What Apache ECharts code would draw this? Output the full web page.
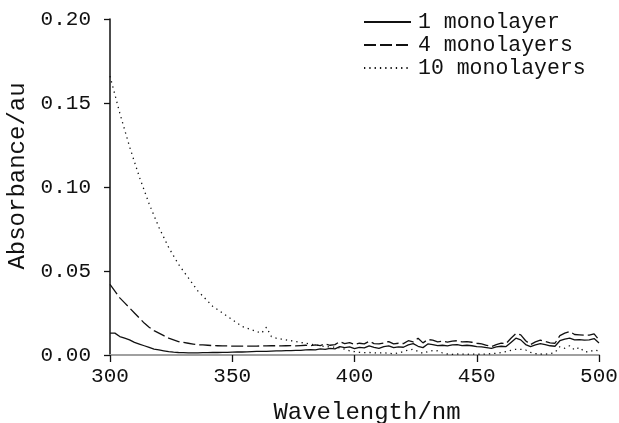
<!DOCTYPE html>
<html>
<head>
<meta charset="utf-8">
<script src="https://cdn.jsdelivr.net/npm/echarts@6/dist/echarts.min.js"></script>
<style>html,body{margin:0;padding:0;background:#fff}#c{width:619px;height:423px}</style>
</head>
<body>
<div id="c"></div>
<script>
const wavelengths = [];
for (let w = 300; w <= 500; w += 2) wavelengths.push(w);

const seriesNames = ['1 monolayer', '4 monolayers', '10 monolayers'];

const mono1 = [
0.0130,0.0130,0.0110,0.0100,0.0090,0.0075,0.0065,0.0055,0.0045,0.0035,
0.0030,0.0025,0.0020,0.0017,0.0015,0.0014,0.0013,0.0013,0.0013,0.0014,
0.0014,0.0015,0.0015,0.0016,0.0016,0.0017,0.0018,0.0018,0.0019,0.0020,
0.0021,0.0022,0.0022,0.0023,0.0024,0.0025,0.0026,0.0026,0.0028,0.0028,
0.0030,0.0032,0.0030,0.0036,0.0034,0.0040,0.0036,0.0050,0.0044,0.0048,
0.0038,0.0046,0.0042,0.0054,0.0046,0.0040,0.0050,0.0054,0.0044,0.0048,
0.0046,0.0060,0.0068,0.0052,0.0044,0.0066,0.0062,0.0056,0.0058,0.0054,
0.0060,0.0062,0.0056,0.0058,0.0055,0.0050,0.0048,0.0044,0.0040,0.0048,
0.0052,0.0050,0.0075,0.0100,0.0090,0.0062,0.0050,0.0060,0.0068,0.0062,
0.0055,0.0052,0.0085,0.0095,0.0100,0.0090,0.0092,0.0088,0.0090,0.0098,
0.0072];

const mono4 = [
0.0420,0.0380,0.0340,0.0310,0.0280,0.0250,0.0220,0.0190,0.0165,0.0145,
0.0130,0.0115,0.0100,0.0090,0.0080,0.0075,0.0070,0.0065,0.0060,0.0060,
0.0058,0.0056,0.0055,0.0054,0.0054,0.0053,0.0053,0.0053,0.0053,0.0053,
0.0053,0.0054,0.0054,0.0055,0.0055,0.0054,0.0055,0.0056,0.0054,0.0056,
0.0058,0.0055,0.0060,0.0056,0.0066,0.0058,0.0062,0.0079,0.0068,0.0074,
0.0062,0.0070,0.0066,0.0082,0.0068,0.0066,0.0072,0.0080,0.0066,0.0070,
0.0068,0.0085,0.0078,0.0100,0.0072,0.0092,0.0088,0.0078,0.0082,0.0076,
0.0082,0.0085,0.0078,0.0080,0.0076,0.0070,0.0066,0.0058,0.0050,0.0062,
0.0070,0.0068,0.0100,0.0128,0.0120,0.0085,0.0062,0.0078,0.0088,0.0080,
0.0072,0.0070,0.0115,0.0130,0.0140,0.0122,0.0120,0.0118,0.0118,0.0126,
0.0090];

const mono10 = [
0.1660,0.1550,0.1440,0.1340,0.1240,0.1150,0.1060,0.0980,0.0900,0.0830,
0.0760,0.0700,0.0640,0.0590,0.0540,0.0500,0.0460,0.0420,0.0380,0.0350,
0.0320,0.0290,0.0270,0.0250,0.0230,0.0210,0.0190,0.0170,0.0160,0.0150,
0.0140,0.0130,0.0165,0.0110,0.0100,0.0095,0.0090,0.0085,0.0080,0.0075,
0.0070,0.0065,0.0060,0.0055,0.0050,0.0048,0.0046,0.0042,0.0035,0.0025,
0.0020,0.0016,0.0014,0.0015,0.0013,0.0012,0.0014,0.0010,0.0008,0.0012,
0.0020,0.0030,0.0034,0.0022,0.0010,0.0020,0.0026,0.0025,0.0012,0.0006,
0.0004,0.0006,0.0005,0.0004,0.0006,0.0005,0.0004,0.0006,0.0008,0.0010,
0.0015,0.0020,0.0028,0.0034,0.0034,0.0030,0.0015,0.0008,0.0006,0.0005,
0.0008,0.0015,0.0050,0.0040,0.0055,0.0030,0.0045,0.0020,0.0018,0.0030,
0.0025];

const xTicks = [300, 350, 400, 450, 500];
const yTicks = [0, 0.05, 0.10, 0.15, 0.20];

const pair = arr => wavelengths.map((w, i) => [w, arr[i]]);
const FONT = '"Liberation Mono", "DejaVu Sans Mono", monospace';

const chart = echarts.init(document.getElementById('c'), null, {renderer: 'canvas'});
chart.setOption({
  backgroundColor: '#fff',
  animation: false,
  grid: {left: 110, right: 20, top: 19, bottom: 68, containLabel: false, outerBoundsMode: 'none'},
  legend: {
    orient: 'vertical', left: 358, top: 6,
    itemWidth: 47, itemHeight: 14, itemGap: 1,
    itemStyle: {opacity: 0},
    textStyle: {fontFamily: FONT, fontSize: 21.5, color: '#111', lineHeight: 22, padding: [0,0,0,2]},
    data: seriesNames
  },
  xAxis: {
    type: 'value', min: xTicks[0], max: xTicks[xTicks.length-1], interval: 50,
    name: 'Wavelength/nm', nameLocation: 'middle', nameGap: 46,
    nameTextStyle: {fontFamily: FONT, fontSize: 24, color: '#111', padding: [0,0,0,25]},
    axisLine: {onZero: false, lineStyle: {color: '#a0a0a0', width: 2}},
    axisTick: {length: 7, lineStyle: {color: '#111', width: 1.3}},
    axisLabel: {fontFamily: FONT, fontSize: 21, color: '#111', margin: 11},
    splitLine: {show: false}
  },
  yAxis: {
    type: 'value', min: yTicks[0], max: yTicks[yTicks.length-1], interval: 0.05,
    name: 'Absorbance/au', nameLocation: 'middle', nameGap: 80,
    nameTextStyle: {fontFamily: FONT, fontSize: 24, color: '#111', padding: [0,0,0,22]},
    axisLine: {show: true, lineStyle: {color: '#111', width: 1.5}},
    axisTick: {show: true, length: 6, lineStyle: {color: '#111', width: 1.3}},
    axisLabel: {fontFamily: FONT, fontSize: 21, color: '#111', margin: 19,
      formatter: v => v.toFixed(2)},
    splitLine: {show: false}
  },
  series: [
    {name: seriesNames[0], type: 'line', data: pair(mono1), symbol: 'none',
      lineStyle: {color: '#111', width: 1.3, type: 'solid'}, itemStyle: {color: '#111'}},
    {name: seriesNames[1], type: 'line', data: pair(mono4), symbol: 'none',
      lineStyle: {color: '#111', width: 1.3, type: [12, 4]}, itemStyle: {color: '#111'}},
    {name: seriesNames[2], type: 'line', data: pair(mono10), symbol: 'none',
      lineStyle: {color: '#111', width: 1.3, type: [1.3, 4]}, itemStyle: {color: '#111'}}
  ]
});
</script>
</body>
</html>
